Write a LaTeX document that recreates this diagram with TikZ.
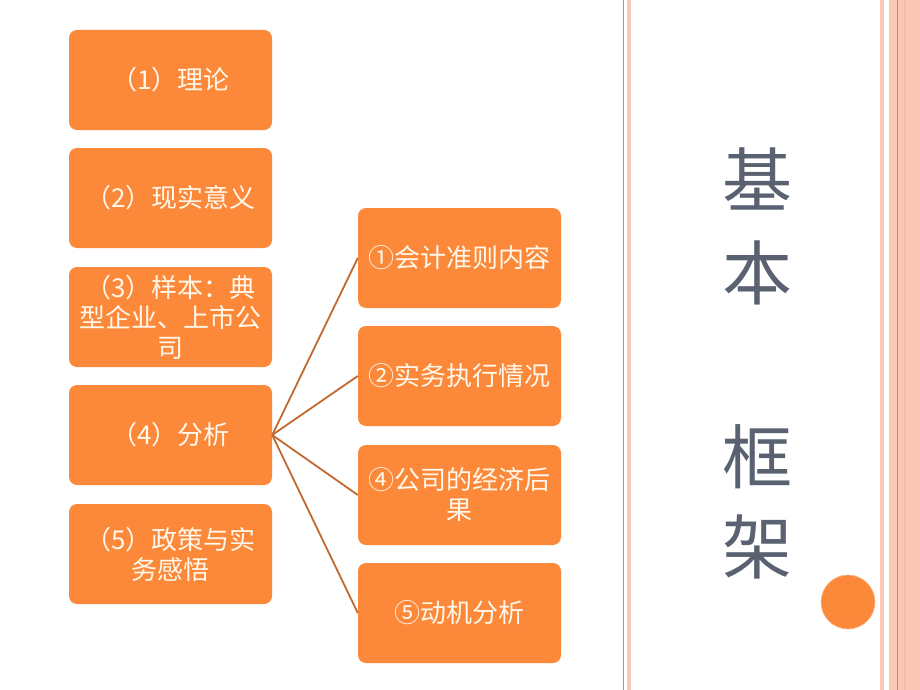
\documentclass[tikz,border=0pt]{standalone}
\usepackage{fontspec}
\newfontfamily\cjk{Noto Sans CJK SC}
\definecolor{boxorange}{RGB}{252,137,58}
\definecolor{salmon}{RGB}{252,200,182}
\definecolor{salmondark}{RGB}{250,188,162}
\definecolor{lineorange}{RGB}{232,130,60}
\definecolor{conn}{RGB}{192,106,48}
\definecolor{titlegray}{RGB}{90,98,114}
\definecolor{cream}{RGB}{255,248,235}
\begin{document}
\begin{tikzpicture}[x=1pt,y=-1pt,
  box/.style={draw=none,fill=boxorange,rounded corners=8pt,minimum width=203pt,minimum height=100pt,
    inner sep=2pt,text=cream,align=center,font=\cjk\fontsize{26}{30}\selectfont,text width=199pt},
  conline/.style={draw=conn,line width=1.8pt},
  titlechar/.style={text=titlegray,font=\cjk\fontsize{70}{72}\selectfont,inner sep=0pt}]
\useasboundingbox (0,0) rectangle (920,690);
\fill[white] (0,0) rectangle (920,690);
% stripes
\fill[lineorange] (622.5,0) rectangle (623.7,690);
\fill[salmon] (627,0) rectangle (631,690);
\fill[salmon] (880,0) rectangle (884,690);
\fill[salmon] (889,0) rectangle (920,690);
\fill[lineorange] (896.5,0) rectangle (897.7,690);
\fill[salmondark] (904,0) rectangle (906,690);
% left column
\node[box] (b1) at (170.5,80) {（1）理论};
\node[box] (b2) at (170.5,198) {（2）现实意义};
\node[box] (b3) at (170.5,317) {（3）样本：典\\型企业、上市公\\司};
\node[box] (b4) at (170.5,435) {（4）分析};
\node[box] (b5) at (170.5,554) {（5）政策与实\\务感悟};
% right column
\node[box] (r1) at (459.5,258) {①会计准则内容};
\node[box] (r2) at (459.5,376) {②实务执行情况};
\node[box] (r3) at (459.5,495) {④公司的经济后\\果};
\node[box] (r4) at (459.5,613) {⑤动机分析};
% connectors
\draw[conline] (b4.east) -- (r1.west);
\draw[conline] (b4.east) -- (r2.west);
\draw[conline] (b4.east) -- (r3.west);
\draw[conline] (b4.east) -- (r4.west);
% title
\node[titlechar] (t1) at (757,179) {基};
\node[titlechar] (t2) at (757,273) {本};
\node[titlechar] (t3) at (757,457) {框};
\node[titlechar] (t4) at (757,547) {架};
% circle
\node[circle,fill=boxorange,draw=boxorange!60!white,line width=0.6pt,minimum size=54pt,inner sep=0pt] (c) at (848,602) {};
\end{tikzpicture}
\end{document}
